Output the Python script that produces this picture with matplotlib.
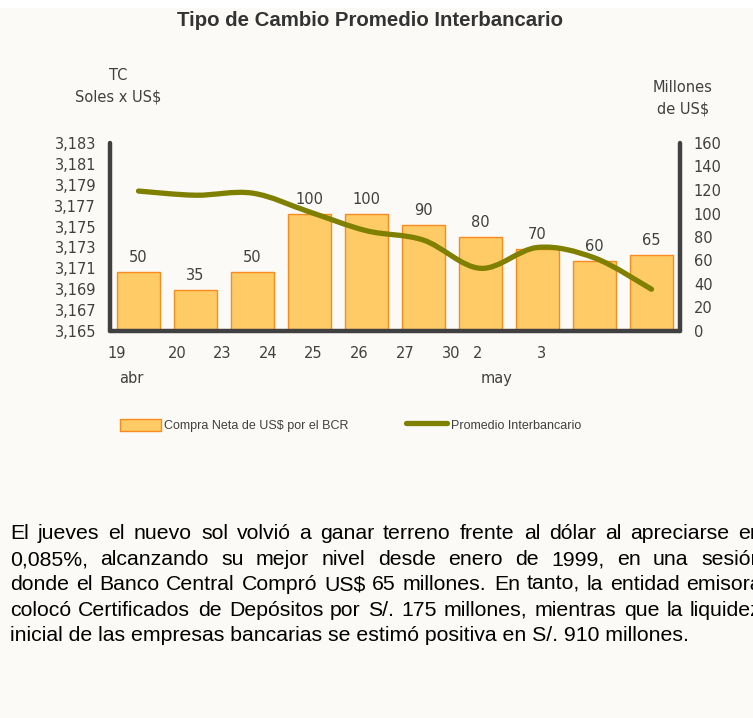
import numpy as np
import matplotlib
matplotlib.use("Agg")
import matplotlib.pyplot as plt
from matplotlib.path import Path
from matplotlib.patches import PathPatch, Rectangle
from matplotlib.lines import Line2D

# ── Datos ─────────────────────────────────────────────────────────────────────
dias = ["19", "20", "23", "24", "25", "26", "27", "30", "2", "3"]
meses = ["abr", "may"]
compra_bcr = [50, 35, 50, 100, 100, 90, 80, 70, 60, 65]          # millones US$
tc_promedio = [3.1784, 3.1780, 3.1782, 3.1764, 3.1746,
               3.1737, 3.1710, 3.1730, 3.1720, 3.1690]            # soles x US$
tc_ticks = [3.165, 3.167, 3.169, 3.171, 3.173, 3.175, 3.177, 3.179, 3.181, 3.183]
usd_ticks = [0, 20, 40, 60, 80, 100, 120, 140, 160]

titulo = "Tipo de Cambio Promedio Interbancario"
parrafo = [
    "El jueves el nuevo sol volvió a ganar terreno frente al dólar al apreciarse en",
    "0,085%, alcanzando su mejor nivel desde enero de 1999, en una sesión",
    "donde el Banco Central Compró US$ 65 millones. En tanto, la entidad emisora",
    "colocó Certificados de Depósitos por S/. 175 millones, mientras que la liquidez",
    "inicial de las empresas bancarias se estimó positiva en S/. 910 millones.",
]

# ── Estilo ────────────────────────────────────────────────────────────────────
COLORS = {
    "fondo":  "#FBFAF6",
    "barra":  "#FECB67",
    "borde":  "#F98A1E",
    "linea":  "#808000",
    "eje":    "#404040",
    "texto":  "#404040",
}
W, H = 753, 718
plt.rcParams["font.family"] = "DejaVu Sans"


def fx(px):
    return px / W


def fy(py):
    return 1 - py / H


fig = plt.figure(figsize=(W / 100, H / 100), dpi=100)
fig.patch.set_facecolor("white")
fig.patches.append(Rectangle((0, 0), 1, fy(8), transform=fig.transFigure,
                             facecolor=COLORS["fondo"], edgecolor="none", zorder=-10))

ax_usd = fig.add_axes([fx(110), fy(331), fx(680) - fx(110), fy(143) - fy(331)])
ax_tc = ax_usd.twinx()
for a in (ax_usd, ax_tc):
    a.set_facecolor("none")

x = np.arange(len(dias))

# Barras (eje derecho)
ax_usd.bar(x, compra_bcr, width=0.76, color=COLORS["barra"],
           edgecolor=COLORS["borde"], linewidth=1.0, zorder=2)
for xi, v in zip(x, compra_bcr):
    ax_usd.annotate(str(v), (xi, v), xytext=(0, 5), textcoords="offset points",
                    ha="center", va="bottom", fontsize=10.5, color=COLORS["texto"])
ax_usd.set_ylim(0, 160)
ax_usd.set_xlim(-0.5, len(dias) - 0.5)
ax_usd.yaxis.tick_right()
ax_usd.set_yticks(usd_ticks)
ax_usd.set_yticklabels([str(t) for t in usd_ticks])

# Línea suavizada (eje izquierdo)
pts = np.column_stack([x, tc_promedio])
verts = [tuple(pts[0])]
codes = [Path.MOVETO]
for i in range(len(pts) - 1):
    p0 = pts[max(i - 1, 0)]
    p1, p2 = pts[i], pts[i + 1]
    p3 = pts[min(i + 2, len(pts) - 1)]
    c1 = p1 + (p2 - p0) / 6
    c2 = p2 - (p3 - p1) / 6
    verts += [tuple(c1), tuple(c2), tuple(p2)]
    codes += [Path.CURVE4] * 3
ax_tc.add_patch(PathPatch(Path(verts, codes), facecolor="none",
                          edgecolor=COLORS["linea"], linewidth=3.8,
                          capstyle="round", joinstyle="round", zorder=3))
ax_tc.set_ylim(3.165, 3.183)
ax_tc.yaxis.tick_left()
ax_tc.set_yticks(tc_ticks)
ax_tc.set_yticklabels([f"{t:.3f}".replace(".", ",") for t in tc_ticks])

for a in (ax_usd, ax_tc):
    a.tick_params(axis="y", length=0, labelsize=10.5, labelcolor=COLORS["texto"], pad=10)
    a.tick_params(axis="x", length=0, labelbottom=False)
    for s in a.spines.values():
        s.set_visible(False)
for a, side in ((ax_tc, "left"), (ax_usd, "right"), (ax_usd, "bottom")):
    sp = a.spines[side]
    sp.set_visible(True)
    sp.set_color(COLORS["eje"])
    sp.set_linewidth(3.2)
    sp.set_capstyle("round")

# Etiquetas de fecha (como en el original, desplazadas de las barras)
dia_px = [117, 177, 222, 268, 313, 359, 405, 451, 478, 542]
for d, px in zip(dias, dia_px):
    fig.text(fx(px), fy(354), d, ha="center", va="center", fontsize=10.5,
             color=COLORS["texto"])
for m, px in zip(meses, [131, 497]):
    fig.text(fx(px), fy(378), m, ha="center", va="center", fontsize=10.5,
             color=COLORS["texto"])

# Títulos de ejes
fig.text(fx(118), fy(75), "TC", ha="center", va="center", fontsize=10.5,
         color=COLORS["texto"])
fig.text(fx(118), fy(97), "Soles x US$", ha="center", va="center", fontsize=10.5,
         color=COLORS["texto"])
fig.text(fx(683), fy(88), "Millones", ha="center", va="center", fontsize=10.5,
         color=COLORS["texto"])
fig.text(fx(683), fy(109), "de US$", ha="center", va="center", fontsize=10.5,
         color=COLORS["texto"])

# Título
fig.text(fx(370), fy(20), titulo, ha="center", va="center", fontsize=14.7,
         fontweight="bold", family="Liberation Sans", color="#333333")

# Leyenda
leg_font = dict(fontsize=9, family="Liberation Sans",
                color=COLORS["texto"], va="center", ha="left")
fig.patches.append(Rectangle((fx(120), fy(431)), fx(161) - fx(120), fy(419) - fy(431),
                             transform=fig.transFigure, facecolor=COLORS["barra"],
                             edgecolor=COLORS["borde"], linewidth=1.0))
fig.text(fx(164), fy(426), "Compra Neta de US$ por el BCR", **leg_font)
fig.lines.append(Line2D([fx(406), fx(447)], [fy(423), fy(423)],
                        transform=fig.transFigure, color=COLORS["linea"],
                        linewidth=3.8, solid_capstyle="round"))
fig.text(fx(451), fy(426), "Promedio Interbancario", **leg_font)

# Párrafo justificado
renderer = fig.canvas.get_renderer()
par_font = dict(fontsize=15.3, family="Liberation Sans", color="black",
                va="baseline", ha="left")
x_izq, x_der = 10, 762
baselines = [539, 565, 590, 616, 641]
for i, linea in enumerate(parrafo):
    y_base = fy(baselines[i])
    palabras = linea.split(" ")
    ultima = i == len(parrafo) - 1
    if ultima:
        fig.text(fx(x_izq), y_base, linea, **par_font)
        continue
    arts = [fig.text(0, y_base, p, **par_font) for p in palabras]
    anchos = [t.get_window_extent(renderer).width for t in arts]
    hueco = (x_der - x_izq - sum(anchos)) / (len(palabras) - 1)
    pos = x_izq
    for t, w in zip(arts, anchos):
        t.set_x(fx(round(pos)))
        pos += w + hueco

fig.savefig("out.png", dpi=100, facecolor=fig.get_facecolor())
